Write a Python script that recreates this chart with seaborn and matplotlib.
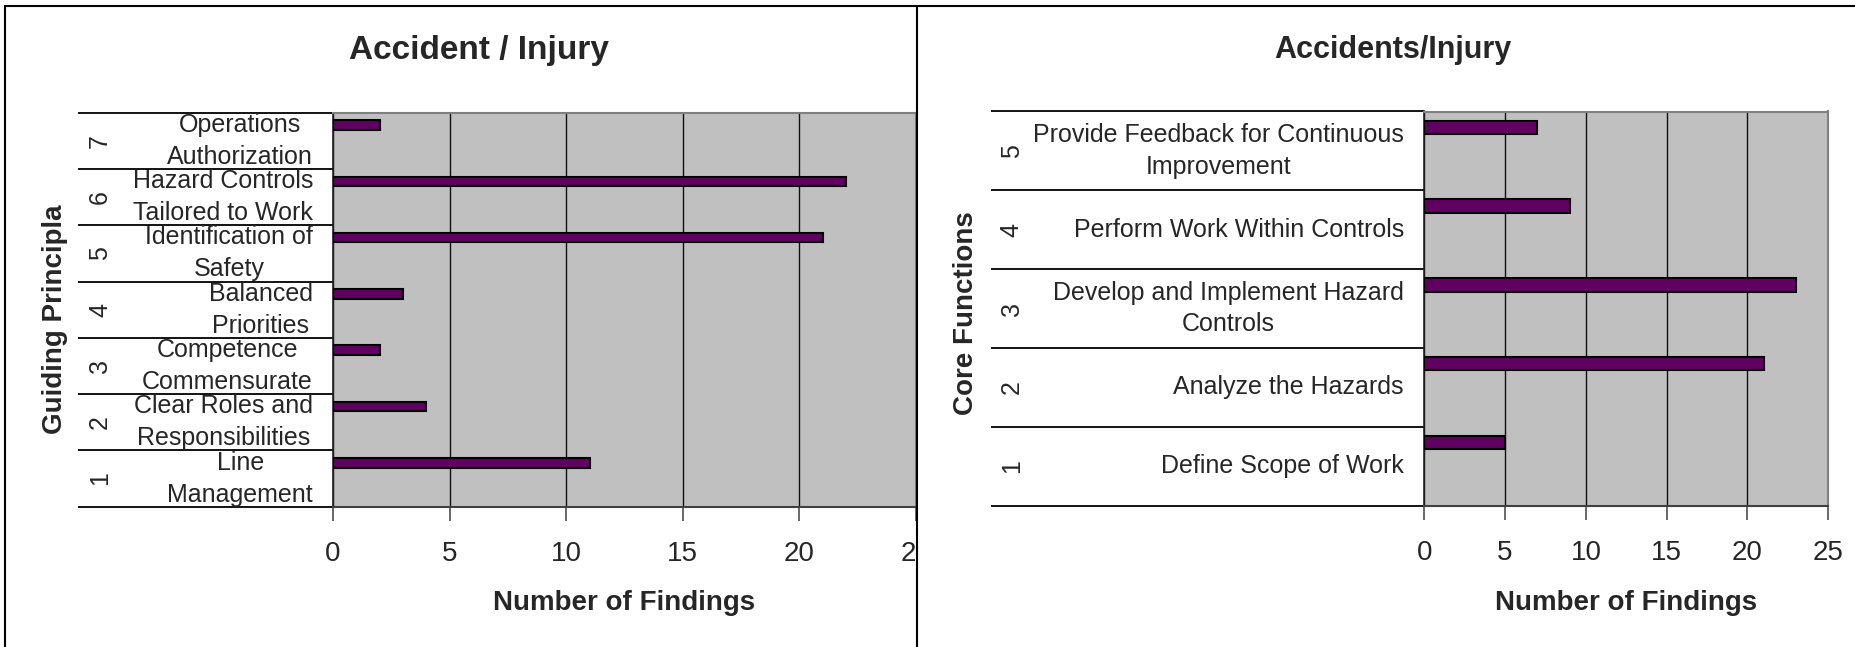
import numpy as np
import matplotlib
matplotlib.use("Agg")
import matplotlib.pyplot as plt
import seaborn as sns
from matplotlib.transforms import Bbox, TransformedBbox, blended_transform_factory
from matplotlib.lines import Line2D

# ---------------- data ----------------
gp_numbers = ["7", "6", "5", "4", "3", "2", "1"]
gp_labels = ["Operations\nAuthorization", "Hazard Controls\nTailored to Work",
             "Identification of\nSafety", "Balanced\nPriorities",
             "Competence\nCommensurate", "Clear Roles and\nResponsibilities",
             "Line\nManagement"]
gp_findings = [2, 22, 21, 3, 2, 4, 11]

cf_numbers = ["5", "4", "3", "2", "1"]
cf_labels = ["Provide Feedback for Continuous\nImprovement",
             "Perform Work Within Controls",
             "Develop and Implement Hazard\nControls",
             "Analyze the Hazards",
             "Define Scope of Work"]
cf_findings = [7, 9, 23, 21, 5]

x_ticks = [0, 5, 10, 15, 20, 25]

# ---------------- style ----------------
sns.set_style("white")
plt.rcParams['font.family'] = ['Liberation Sans', 'DejaVu Sans']

W, H = 1856, 647
fig = plt.figure(figsize=(W / 100, H / 100), dpi=100)

BAR_COLOR = '#600060'


def panel(ax_left, ax_right, ax_top, ax_bottom, numbers, labels, values, offset,
          table_left, num_x, label_right, ylabel, ylabel_x, ylabel_yfrac, xlabel_y,
          linespacing):
    ax = fig.add_axes([ax_left / W, 1 - ax_bottom / H,
                       (ax_right - ax_left) / W, (ax_bottom - ax_top) / H])
    wpx = ax_right - ax_left
    hpx = ax_bottom - ax_top
    sns.barplot(x=values, y=numbers, orient='h', color=BAR_COLOR, saturation=1,
                width=0.17, edgecolor='black', linewidth=1.5, ax=ax, zorder=3)
    for p in ax.patches:
        p.set_y(p.get_y() - offset)
    n = len(numbers)
    ax.set_xlim(0, 25)
    ax.set_ylim(n - 0.5, -0.5)
    ax.set_facecolor('#C0C0C0')
    ax.set_xticks(x_ticks)
    ax.set_yticks([])
    ax.set_ylabel("")
    ax.xaxis.grid(True, color='#101010', lw=1.0)
    ax.set_axisbelow(True)
    for s in ['top', 'right']:
        ax.spines[s].set_color('#808080')
        ax.spines[s].set_linewidth(1.5)
    ax.spines['bottom'].set_color('#404040')
    ax.spines['bottom'].set_linewidth(1.5)
    ax.spines['left'].set_color('#202020')
    ax.spines['left'].set_linewidth(1.2)
    ax.tick_params(axis='x', direction='out', length=10, width=1.1,
                   color='#404040', labelsize=20, pad=15, bottom=True)

    trans = blended_transform_factory(ax.transAxes, ax.transData)
    tl = (table_left - ax_left) / wpx
    for b in np.arange(n + 1) - 0.5:
        ax.plot([tl, 0], [b, b], transform=trans, color='black', lw=1.3,
                clip_on=False, solid_capstyle='butt')
    nx = (num_x - ax_left) / wpx
    lx = (label_right - ax_left) / wpx
    for i in range(n):
        ax.text(nx, i, numbers[i], rotation=90, ha='center', va='center',
                transform=trans, fontsize=18)
        ax.text(lx, i, labels[i], ha='right', va='center',
                multialignment='center', transform=trans, fontsize=18,
                linespacing=linespacing)
    ax.text((ylabel_x - ax_left) / wpx, ylabel_yfrac, ylabel, rotation=90,
            transform=ax.transAxes, fontsize=20, fontweight='bold',
            ha='center', va='center')
    ax.set_xlabel("Number of Findings", fontsize=20, fontweight='bold')
    ax.xaxis.label.set_va('center')
    ax.xaxis.set_label_coords(0.5, -(xlabel_y - ax_bottom) / hpx)
    return ax


axL = panel(333, 916, 112.7, 506.7, gp_numbers, gp_labels, gp_findings, 0.28,
            78, 100, 313, "Guiding Principla", 55, 0.477, 603, 1.42)
axR = panel(1424.3, 1828.3, 111.5, 505.5, cf_numbers, cf_labels, cf_findings, 0.30,
            990.7, 1011.7, 1404, "Core Functions", 966, 0.487, 603, 1.38)

# clip left chart's tick labels at the panel divider
clip = TransformedBbox(Bbox.from_extents(0, 0, 917 / W, 1), fig.transFigure)
for t in axL.xaxis.get_major_ticks():
    t.label1.set_clip_on(True)
    t.label1.set_clip_box(clip)

fig.text(479 / W, 1 - 50 / H, "Accident / Injury", ha='center', va='center',
         fontsize=24, fontweight='bold')
fig.text(1392.6 / W, 1 - 50 / H, "Accidents/Injury", ha='center', va='center',
         fontsize=22, fontweight='bold')

# outer frame and divider
for xs, ys in [([5 / W, 5 / W], [0, 1 - 6 / H]),
               ([5 / W, 1], [1 - 6 / H, 1 - 6 / H]),
               ([917.5 / W, 917.5 / W], [0, 1 - 6 / H])]:
    fig.add_artist(Line2D(xs, ys, color='black', lw=1.5, transform=fig.transFigure))

fig.savefig('out.png', dpi=100)
